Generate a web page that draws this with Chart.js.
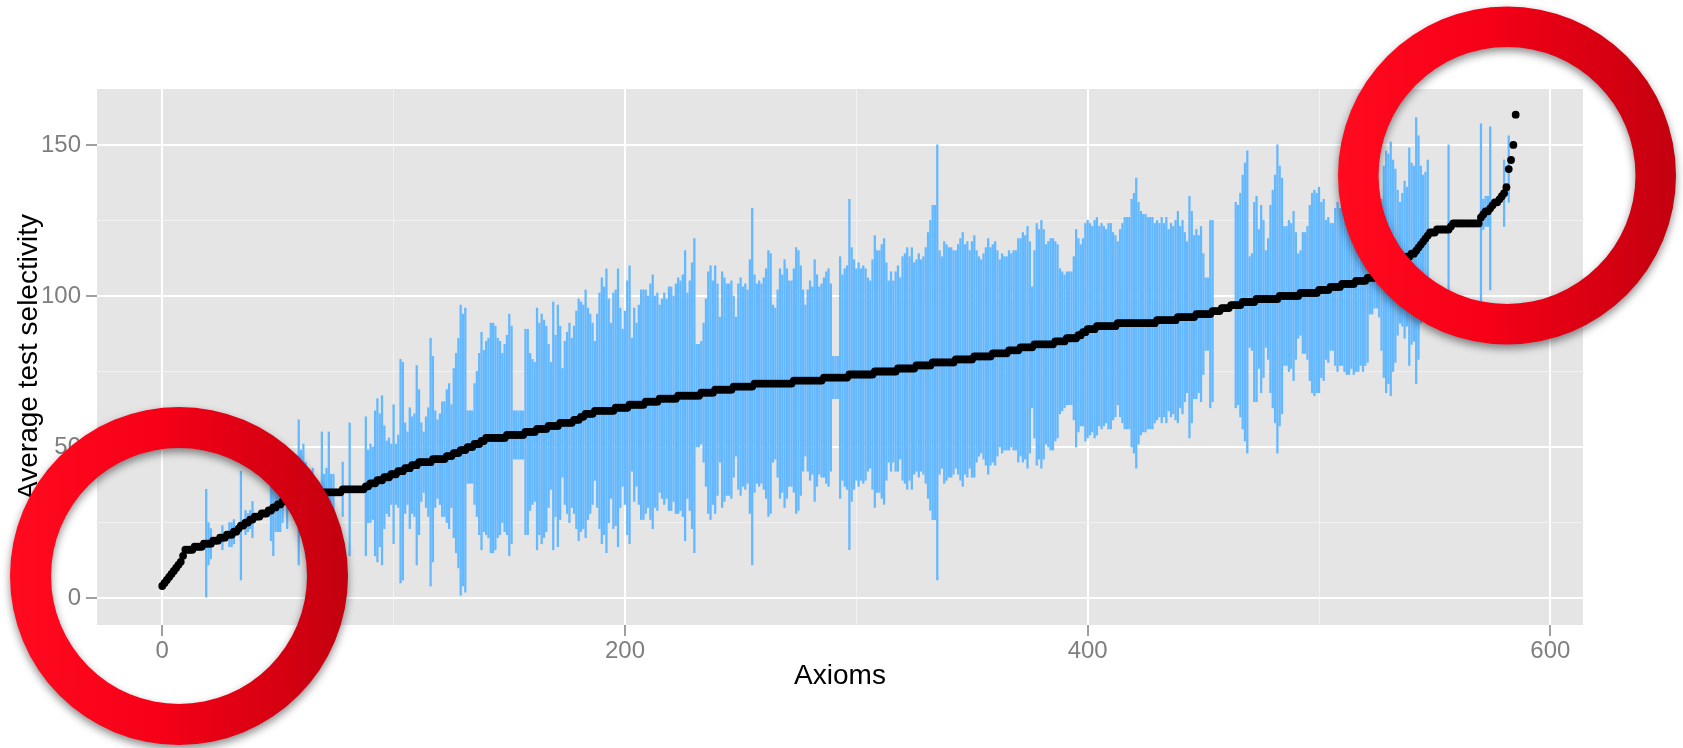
<!DOCTYPE html>
<html>
<head>
<meta charset="utf-8">
<script src="https://cdn.jsdelivr.net/npm/chart.js@4.4.1/dist/chart.umd.min.js"></script>
<style>
  html, body { margin: 0; padding: 0; background: #ffffff; }
  canvas { display: block; }
</style>
</head>
<body>
<canvas id="selectivityChart" width="1683" height="748"></canvas>
<script>
const _ = null;

// average test selectivity per axiom (axioms sorted by it), index 0..585
const meanSelectivity = [
  4,5,6,7,8,9,10,11,12,14,            // 0
  16,16,16,16,17,17,17,17,18,18,      // 10
  18,18,19,19,19,20,20,20,21,21,      // 20
  21,22,22,23,24,24,25,25,26,26,      // 30
  27,27,27,28,28,28,29,29,30,30,      // 40
  31,31,32,32,33,33,34,34,35,35,      // 50
  35,35,35,35,35,35,35,35,35,35,      // 60
  35,35,35,35,35,35,35,35,36,36,      // 70
  36,36,36,36,36,36,36,36,37,37,      // 80
  38,38,38,39,39,39,40,40,40,41,      // 90
  41,41,42,42,42,43,43,43,44,44,      // 100
  44,45,45,45,45,45,45,46,46,46,      // 110
  46,46,46,47,47,47,48,48,48,49,      // 120
  49,49,50,50,50,51,51,51,52,52,      // 130
  53,53,53,53,53,53,53,53,53,54,      // 140
  54,54,54,54,54,54,54,55,55,55,      // 150
  55,55,56,56,56,56,56,57,57,57,      // 160
  57,57,58,58,58,58,58,58,59,59,      // 170
  59,60,60,61,61,61,61,62,62,62,      // 180
  62,62,62,62,62,62,63,63,63,63,      // 190
  63,63,64,64,64,64,64,64,64,65,      // 200
  65,65,65,65,65,66,66,66,66,66,      // 210
  66,66,66,67,67,67,67,67,67,67,      // 220
  67,67,67,68,68,68,68,68,68,69,      // 230
  69,69,69,69,69,69,69,70,70,70,      // 240
  70,70,70,70,70,70,71,71,71,71,      // 250
  71,71,71,71,71,71,71,71,71,71,      // 260
  71,71,71,72,72,72,72,72,72,72,      // 270
  72,72,72,72,72,72,73,73,73,73,      // 280
  73,73,73,73,73,73,73,74,74,74,      // 290
  74,74,74,74,74,74,74,74,75,75,      // 300
  75,75,75,75,75,75,75,75,76,76,      // 310
  76,76,76,76,76,76,77,77,77,77,      // 320
  77,77,77,78,78,78,78,78,78,78,      // 330
  78,78,78,79,79,79,79,79,79,79,      // 340
  79,80,80,80,80,80,80,80,80,81,      // 350
  81,81,81,81,81,81,82,82,82,82,      // 360
  82,83,83,83,83,83,83,84,84,84,      // 370
  84,84,84,84,84,84,85,85,85,85,      // 380
  85,86,86,86,86,86,87,87,88,88,      // 390
  89,89,89,89,90,90,90,90,90,90,      // 400
  90,90,90,91,91,91,91,91,91,91,      // 410
  91,91,91,91,91,91,91,91,91,91,      // 420
  92,92,92,92,92,92,92,92,92,93,      // 430
  93,93,93,93,93,93,93,94,94,94,      // 440
  94,94,94,94,95,95,95,95,96,96,      // 450
  96,96,97,97,97,97,97,98,98,98,      // 460
  98,98,98,99,99,99,99,99,99,99,      // 470
  99,99,99,100,100,100,100,100,100,100, // 480
  100,100,101,101,101,101,101,101,101,101, // 490
  102,102,102,102,102,103,103,103,103,103, // 500
  104,104,104,104,104,104,105,105,105,105, // 510
  105,106,106,106,106,107,107,107,108,108, // 520
  109,109,110,110,111,111,112,112,113,113, // 530
  114,114,115,116,117,118,119,120,121,121, // 540
  121,122,122,122,122,122,122,123,124,124, // 550
  124,124,124,124,124,124,124,124,124,124, // 560
  126,127,128,128,129,130,131,131,132,133, // 570
  134,136,142,145,150,160                  // 580
];

// half height of each error bar around the mean (null = no bar visible)
const spread = [
  _,_,_,_,_,_,_,_,_,_,                // 0
  _,_,_,_,_,_,_,_,_,18,               // 10
  7,5,_,_,_,_,4,_,_,4,                // 20
  4,4,_,_,18,_,4,3,3,6,               // 30
  _,_,_,_,_,_,_,10,16,8,              // 40
  9,9,7,_,10,4,_,5,_,24,              // 50
  14,16,10,_,_,8,_,_,_,20,            // 60
  6,8,20,6,6,_,_,_,9,_,               // 70
  _,22,_,_,_,_,_,_,23,12,             // 80
  13,12,24,27,22,28,17,12,13,10,      // 90
  23,10,12,37,36,15,12,20,16,17,      // 100
  33,24,13,10,15,18,41,34,16,13,      // 110
  15,19,19,22,24,17,28,33,38,48,      // 120
  45,47,12,12,12,20,24,30,36,30,      // 130
  32,33,38,38,37,33,32,28,31,33,      // 140
  40,36,8,8,8,8,8,34,34,26,           // 150
  24,23,40,35,38,36,34,27,21,41,      // 160
  30,40,32,18,27,30,33,28,31,36,      // 170
  40,38,37,41,35,33,30,23,32,39,      // 180
  44,41,47,37,29,39,39,46,33,26,      // 190
  32,42,46,22,32,27,33,38,38,37,      // 200
  35,39,42,35,36,31,33,35,33,37,      // 210
  37,34,38,39,38,40,48,34,38,44,      // 220
  52,17,17,17,23,31,40,42,37,41,      // 230
  35,24,39,37,35,35,36,30,23,34,      // 240
  36,33,34,32,42,59,36,33,34,33,      // 250
  35,38,44,43,26,25,31,38,36,41,      // 260
  38,34,34,37,44,43,38,30,25,30,      // 270
  33,31,40,35,31,32,33,35,36,31,      // 280
  7,7,7,40,34,36,37,58,42,38,         // 290
  35,37,35,36,35,32,31,38,45,40,      // 300
  40,42,44,36,30,33,30,33,34,30,      // 310
  37,38,40,37,40,35,35,37,35,36,      // 320
  39,44,48,52,52,72,37,35,40,39,      // 330
  38,38,37,36,38,40,42,38,39,36,      // 340
  39,40,35,33,32,34,36,39,36,36,      // 350
  37,34,31,33,32,32,33,32,33,33,      // 360
  37,36,38,37,40,35,20,31,40,38,      // 370
  41,38,33,34,35,35,33,32,24,23,      // 380
  22,22,22,22,27,36,32,30,31,36,      // 390
  36,35,34,36,36,33,34,33,32,34,      // 400
  34,31,30,27,31,33,35,35,35,41,      // 410
  43,48,40,37,36,36,35,35,35,33,      // 420
  33,32,34,32,34,30,32,31,33,35,      // 430
  30,32,28,25,40,35,27,28,26,29,      // 440
  20,12,12,31,30,_,_,_,_,_,           // 450
  _,_,_,_,34,33,37,42,46,50,          // 460
  15,16,33,34,23,31,26,16,20,31,      // 470
  36,41,51,43,39,23,23,25,24,28,      // 480
  21,14,14,20,20,22,29,33,34,33,      // 490
  34,29,30,23,24,21,21,26,28,26,      // 500
  27,29,30,30,28,30,30,30,28,30,      // 510
  28,28,12,12,10,11,14,25,35,40,      // 520
  38,42,35,32,24,20,22,26,23,36,      // 530
  30,29,44,37,26,22,22,25,_,_,        // 540
  _,_,_,_,_,_,28,_,_,_,               // 550
  _,_,_,_,_,_,_,_,_,_,                // 560
  31,5,5,5,27,_,_,_,_,_,              // 570
  11,_,11,_,_,_                       // 580
];

const xTickLabels = [0, 200, 400, 600];
const yTickLabels = [0, 50, 100, 150];

const FONT = "'Liberation Sans', Arial, Helvetica, sans-serif";

const points = meanSelectivity.map((m, i) => ({ x: i, y: m }));
const bars = [];
spread.forEach((s, i) => {
  if (s !== null) bars.push({ x: i, y: [meanSelectivity[i] - s, meanSelectivity[i] + s] });
});

// grey panel like ggplot
const panelBg = {
  id: 'panelBg',
  beforeDraw(chart) {
    const { ctx, chartArea: a } = chart;
    ctx.save();
    ctx.fillStyle = '#E5E5E5';
    ctx.fillRect(a.left, a.top, a.right - a.left, a.bottom - a.top);
    ctx.restore();
  }
};

function drawRing(ctx, cx, cy, ro, ri) {
  const g = ctx.createLinearGradient(cx - ro, 0, cx + ro, 0);
  g.addColorStop(0, '#FF0A1E');
  g.addColorStop(0.45, '#F50017');
  g.addColorStop(1, '#C3000F');
  ctx.save();
  ctx.shadowColor = 'rgba(0,0,0,0.45)';
  ctx.shadowBlur = 9;
  ctx.shadowOffsetY = 4;
  ctx.beginPath();
  ctx.arc(cx, cy, ro, 0, Math.PI * 2);
  ctx.arc(cx, cy, ri, 0, Math.PI * 2, true);
  ctx.fillStyle = g;
  ctx.fill();
  ctx.restore();
}

// the two highlight circles on top of the plot
const rings = {
  id: 'rings',
  afterDraw(chart) {
    drawRing(chart.ctx, 179, 576, 169, 128);
    drawRing(chart.ctx, 1507, 175.5, 169, 128.5);
  }
};

const isMajor = (c, list) => c.tick && list.includes(c.tick.value);

const ctx = document.getElementById('selectivityChart').getContext('2d');
new Chart(ctx, {
  type: 'scatter',
  data: {
    datasets: [
      {
        type: 'scatter',
        label: 'Mean',
        data: points,
        pointRadius: 3.9,
        pointBackgroundColor: '#000000',
        pointBorderWidth: 0
      },
      {
        type: 'bar',
        label: 'Spread',
        data: bars,
        backgroundColor: '#63B8FF',
        borderWidth: 0,
        barThickness: 1.6
      }
    ]
  },
  options: {
    responsive: false,
    animation: false,
    events: [],
    layout: { padding: { left: 12, right: 100, top: 89, bottom: 55 } },
    plugins: {
      legend: { display: false },
      tooltip: { enabled: false }
    },
    scales: {
      x: {
        type: 'linear',
        min: -28.2,
        max: 614.1,
        offset: false,
        afterFit: s => { s.height = 68; },
        border: { display: false },
        grid: {
          offset: false,
          color: c => (c.tick && c.tick.value % 200 === 0) ? '#FFFFFF' : '#F2F2F2',
          lineWidth: c => (c.tick && c.tick.value % 200 === 0) ? 2 : 1,
          tickColor: c => isMajor(c, xTickLabels) ? '#7F7F7F' : 'rgba(0,0,0,0)',
          tickLength: 11,
          tickWidth: 1.5
        },
        ticks: {
          stepSize: 100,
          includeBounds: false,
          autoSkip: false,
          maxRotation: 0,
          padding: 1,
          color: '#7F7F7F',
          font: { family: FONT, size: 24 },
          callback: v => xTickLabels.includes(v) ? String(v) : ''
        },
        title: {
          display: true,
          text: 'Axioms',
          color: '#000000',
          padding: 0,
          font: { family: FONT, size: 28 }
        }
      },
      y: {
        type: 'linear',
        min: -8.9,
        max: 168.5,
        afterFit: s => { s.width = 85; },
        border: { display: false },
        grid: {
          offset: false,
          color: c => (c.tick && c.tick.value % 50 === 0) ? '#FFFFFF' : '#F2F2F2',
          lineWidth: c => (c.tick && c.tick.value % 50 === 0) ? 2 : 1,
          tickColor: c => isMajor(c, yTickLabels) ? '#7F7F7F' : 'rgba(0,0,0,0)',
          tickLength: 11,
          tickWidth: 1.5
        },
        ticks: {
          stepSize: 25,
          includeBounds: false,
          autoSkip: false,
          padding: 5,
          color: '#7F7F7F',
          font: { family: FONT, size: 24 },
          callback: v => yTickLabels.includes(v) ? String(v) : ''
        },
        title: {
          display: true,
          text: 'Average test selectivity',
          color: '#000000',
          padding: 0,
          font: { family: FONT, size: 28 }
        }
      }
    }
  },
  plugins: [panelBg, rings]
});
</script>
</body>
</html>
